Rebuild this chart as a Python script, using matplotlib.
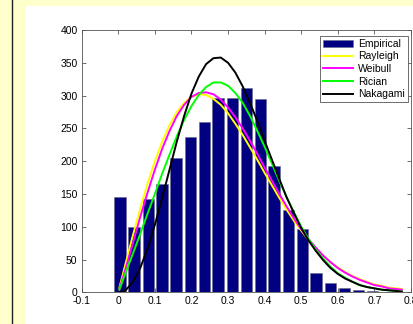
import numpy as np
import matplotlib
matplotlib.use("Agg")
import matplotlib.pyplot as plt
from matplotlib.patches import Rectangle

# histogram (bin centres and counts)
merkez = [0.005, 0.043, 0.082, 0.120, 0.158, 0.197, 0.235, 0.273, 0.312, 0.350, 0.388,
          0.426, 0.465, 0.503, 0.541, 0.580, 0.618, 0.656, 0.695, 0.733, 0.771]
sayi = [145, 100, 142, 165, 205, 237, 260, 297, 296, 311, 295,
        193, 126, 96, 29, 14, 7, 4, 2, 1, 0.5]

# fitted curves, read at these x points
x_egri = [0.003, 0.02, 0.04, 0.06, 0.08, 0.10, 0.12, 0.14, 0.16, 0.18, 0.20, 0.22, 0.24,
          0.26, 0.28, 0.30, 0.32, 0.34, 0.36, 0.38, 0.40, 0.42, 0.44, 0.46, 0.48, 0.50,
          0.52, 0.54, 0.56, 0.58, 0.60, 0.62, 0.64, 0.66, 0.68, 0.70, 0.72, 0.74, 0.76, 0.775]
rayleigh = [7, 44, 87, 128, 166, 200, 230, 255, 275, 289, 298, 302, 301, 295, 286, 273, 257,
            240, 221, 202, 182, 163, 144, 126, 109, 94, 80, 67, 56, 46, 38, 31, 25, 20, 16,
            12, 10, 7, 6, 5]
weibull = [5, 36, 75, 115, 152, 187, 219, 246, 269, 286, 298, 304, 305, 302, 294, 282, 267,
           250, 231, 211, 190, 170, 150, 131, 113, 96, 81, 68, 56, 46, 37, 30, 24, 19, 15,
           11, 9, 6, 5, 4]
rician = [4, 30, 59, 89, 120, 150, 181, 210, 238, 263, 284, 301, 313, 320, 320, 315, 304,
          289, 269, 246, 222, 196, 170, 145, 122, 100, 81, 65, 51, 39, 29, 22, 16, 11, 8,
          6, 4, 3, 2, 1]
nakagami = [0, 3, 16, 37, 67, 103, 144, 187, 230, 269, 303, 329, 348, 357, 358, 350, 335,
            314, 289, 261, 231, 202, 173, 145, 121, 98, 79, 63, 49, 37, 28, 21, 16, 11, 8,
            6, 4, 3, 2, 1]

x_ticks = [-0.1, 0, 0.1, 0.2, 0.3, 0.4, 0.5, 0.6, 0.7, 0.8]
x_etiket = ['-0.1', '0', '0.1', '0.2', '0.3', '0.4', '0.5', '0.6', '0.7', '0.8']
y_ticks = [0, 50, 100, 150, 200, 250, 300, 350, 400]

plt.rcParams['font.family'] = ['Liberation Sans', 'DejaVu Sans']
plt.rcParams['font.size'] = 7.5

fig = plt.figure(figsize=(4.14, 3.24), dpi=100)
fig.patch.set_facecolor('#FFFFCC')
# white panel and the dark line on the left
fig.add_artist(Rectangle((26 / 414, 0), 1, 1 - 6 / 324, transform=fig.transFigure,
                         facecolor='white', edgecolor='none', zorder=-5))
fig.add_artist(plt.Line2D([11.7 / 414, 11.7 / 414], [0, 1], transform=fig.transFigure,
                          color='#202020', linewidth=1.0, zorder=-4))

ax = fig.add_axes([81.7 / 414, 1 - 292.3 / 324, (411 - 81.7) / 414, 262.3 / 324])
cubuk = ax.bar(merkez, sayi, width=0.0383 * 0.82, color='#000080', edgecolor='#6a6a8a',
               linewidth=0.4, zorder=2)
l1, = ax.plot(x_egri, rayleigh, color='#FFFF00', linewidth=1.4, zorder=3)
l2, = ax.plot(x_egri, weibull, color='#FF00FF', linewidth=1.4, zorder=3)
l3, = ax.plot(x_egri, rician, color='#00FF00', linewidth=1.4, zorder=3)
l4, = ax.plot(x_egri, nakagami, color='black', linewidth=1.4, zorder=3)

ax.set_xlim(-0.1, 0.8)
ax.set_ylim(0, 400)
ax.set_xticks(x_ticks)
ax.set_xticklabels(x_etiket)
ax.set_yticks(y_ticks)
ax.tick_params(direction='in', length=3, width=0.5, top=True, right=True, pad=3,
               colors='#333333', labelcolor='black')
for s in ax.spines.values():
    s.set_linewidth(0.6)
    s.set_color('#555555')

leg = ax.legend([cubuk, l1, l2, l3, l4],
                ['Empirical', 'Rayleigh', 'Weibull', 'Rician', 'Nakagami'],
                loc='upper right', bbox_to_anchor=(0.991, 0.978), borderaxespad=0,
                fancybox=False, framealpha=1, edgecolor='#555555', handlelength=2.9,
                handletextpad=0.45, labelspacing=0.25, borderpad=0.3, fontsize=7.5)
leg.get_frame().set_linewidth(0.6)

fig.savefig('out.png', dpi=100, facecolor=fig.get_facecolor())
